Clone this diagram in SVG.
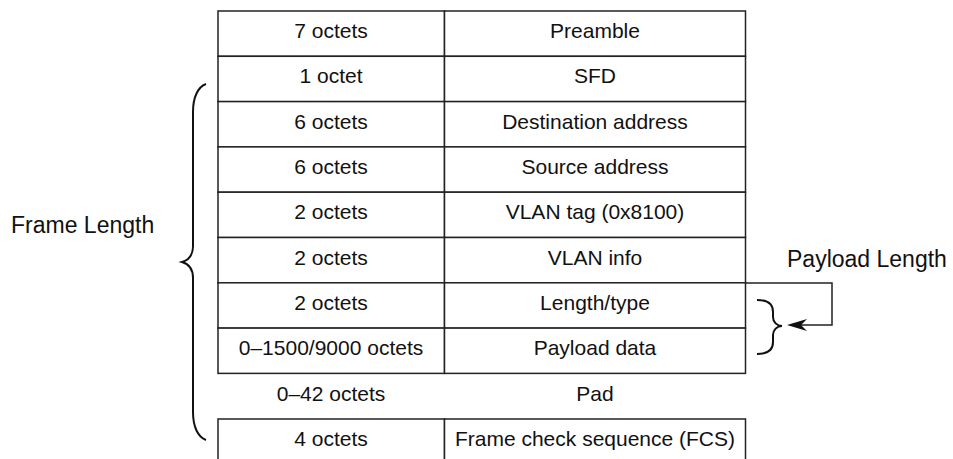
<svg xmlns="http://www.w3.org/2000/svg" width="953" height="459" viewBox="0 0 953 459">
<style>
.cell{fill:#fff;stroke:#222;stroke-width:1.5}
.t{font-family:"Liberation Sans",Arial,sans-serif;font-size:21px;fill:#111;text-anchor:middle}
.lbl{font-family:"Liberation Sans",Arial,sans-serif;font-size:23px;fill:#111}
.brace{fill:none;stroke:#111;stroke-width:2}
.conn{fill:none;stroke:#222;stroke-width:1.5}
</style>
<defs>
<marker id="arr" viewBox="0 0 20 12" refX="6" refY="6" markerWidth="20" markerHeight="12" markerUnits="userSpaceOnUse" orient="auto">
<path d="M20,6 L0,0 L6,6 L0,12 Z" fill="#111"/>
</marker>
</defs>
<rect width="953" height="459" fill="#fff"/>
<g id="row-preamble"><rect class="cell" x="218" y="11" width="226.5" height="45.3"/><rect class="cell" x="444.5" y="11" width="301" height="45.3"/><text class="t" x="331" y="38">7 octets</text><text class="t" x="595" y="38">Preamble</text></g>
<g id="row-sfd"><rect class="cell" x="218" y="56.3" width="226.5" height="45.3"/><rect class="cell" x="444.5" y="56.3" width="301" height="45.3"/><text class="t" x="331" y="83.3">1 octet</text><text class="t" x="595" y="83.3">SFD</text></g>
<g id="row-dst"><rect class="cell" x="218" y="101.6" width="226.5" height="45.3"/><rect class="cell" x="444.5" y="101.6" width="301" height="45.3"/><text class="t" x="331" y="128.6">6 octets</text><text class="t" x="595" y="128.6">Destination address</text></g>
<g id="row-src"><rect class="cell" x="218" y="146.9" width="226.5" height="45.3"/><rect class="cell" x="444.5" y="146.9" width="301" height="45.3"/><text class="t" x="331" y="173.9">6 octets</text><text class="t" x="595" y="173.9">Source address</text></g>
<g id="row-vlantag"><rect class="cell" x="218" y="192.2" width="226.5" height="45.3"/><rect class="cell" x="444.5" y="192.2" width="301" height="45.3"/><text class="t" x="331" y="219.2">2 octets</text><text class="t" x="595" y="219.2">VLAN tag (0x8100)</text></g>
<g id="row-vlaninfo"><rect class="cell" x="218" y="237.5" width="226.5" height="45.3"/><rect class="cell" x="444.5" y="237.5" width="301" height="45.3"/><text class="t" x="331" y="264.5">2 octets</text><text class="t" x="595" y="264.5">VLAN info</text></g>
<g id="row-lentype"><rect class="cell" x="218" y="282.8" width="226.5" height="45.3"/><rect class="cell" x="444.5" y="282.8" width="301" height="45.3"/><text class="t" x="331" y="309.8">2 octets</text><text class="t" x="595" y="309.8">Length/type</text></g>
<g id="row-payload"><rect class="cell" x="218" y="328.1" width="226.5" height="45.3"/><rect class="cell" x="444.5" y="328.1" width="301" height="45.3"/><text class="t" x="331" y="355.1">0–1500/9000 octets</text><text class="t" x="595" y="355.1">Payload data</text></g>
<g id="row-pad"><text class="t" x="331" y="400.5">0–42 octets</text><text class="t" x="595" y="400.5">Pad</text></g>
<g id="row-fcs"><rect class="cell" x="218" y="419" width="226.5" height="46"/><rect class="cell" x="444.5" y="419" width="301" height="46"/><text class="t" x="331" y="446">4 octets</text><text class="t" x="595" y="446">Frame check sequence (FCS)</text></g>
<g id="frame-length"><path class="brace" d="M206,84 C198,87 193,97 193,112 L193,246 C193,255 189,260 182,262 C189,264 193,269 193,278 L193,412 C193,427 198,437 206,440"/><text class="lbl" x="11" y="233">Frame Length</text></g>
<g id="payload-length"><path class="brace" d="M757,300 C767,300 773,304 773,312 L773,317 C773,322 777,326 782,326 C777,326 773,330 773,335 L773,342 C773,350 767,354 757,354"/><text class="lbl" x="787" y="266.5">Payload Length</text></g>
<g id="connectors"><path class="conn" d="M745.5,283 H832 V325 H801" marker-end="url(#arr)"/></g>
</svg>
